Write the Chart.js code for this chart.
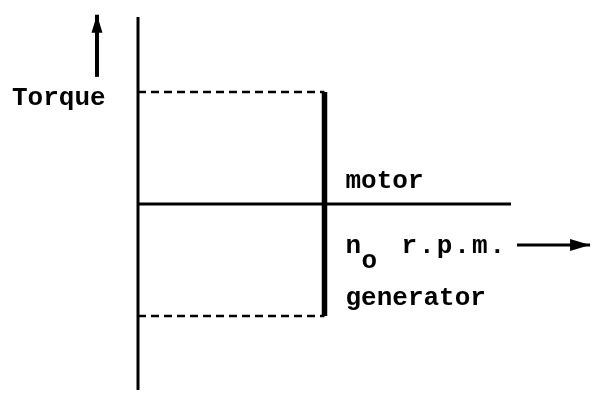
<!DOCTYPE html>
<html>
<head>
<meta charset="utf-8">
<script src="https://cdn.jsdelivr.net/npm/chart.js@4"></script>
<style>
  body { margin: 0; background: #fff; }
  #wrap { width: 601px; height: 402px; }
</style>
</head>
<body>
<div id="wrap"><canvas id="myChart"></canvas></div>
<script>
// data (speed in units of n0, torque in units of the limit torque)
const torqueAxisX = [0, 0];
const torqueAxisY = [1.67, -1.66];
const speedAxisX = [0, 2.0];
const speedAxisY = [0, 0];
const noLoadSpeed = [1, 1];
const torqueRange = [1, -1];
const limitX = [0, 1];
const torqueArrowX = [-0.22, -0.22];
const torqueArrowY = [1.135, 1.69];
const rpmArrowX = [2.032, 2.424];
const rpmArrowY = [-0.366, -0.366];

const pts = (xs, ys) => xs.map((x, i) => ({ x: x, y: ys[i] }));

// arrow heads + text labels
const labelsPlugin = {
    id: 'labels',
    afterDatasetsDraw(chart) {
        const ctx = chart.ctx;
        const xs = chart.scales.x, ys = chart.scales.y;
        const y0 = ys.getPixelForValue(0);
        ctx.save();
        ctx.fillStyle = '#000';

        // up arrow head
        let ax = xs.getPixelForValue(torqueArrowX[1]);
        let ay = ys.getPixelForValue(torqueArrowY[1]);
        ctx.beginPath();
        ctx.moveTo(ax, ay);
        ctx.lineTo(ax - 5.5, ay + 18);
        ctx.lineTo(ax + 5.5, ay + 18);
        ctx.closePath();
        ctx.fill();

        // right arrow head
        ax = xs.getPixelForValue(rpmArrowX[1]);
        ay = ys.getPixelForValue(rpmArrowY[1]);
        ctx.beginPath();
        ctx.moveTo(ax, ay);
        ctx.lineTo(ax - 20, ay - 6);
        ctx.lineTo(ax - 20, ay + 6);
        ctx.closePath();
        ctx.fill();

        ctx.font = 'bold 26px "Liberation Mono"';
        ctx.textBaseline = 'alphabetic';
        ctx.textAlign = 'left';
        const tx = xs.getPixelForValue(noLoadSpeed[0]) + 21;
        ctx.fillText('Torque', 12, ys.getPixelForValue(torqueRange[0]) + 13);
        ctx.fillText('motor', tx, y0 - 16);
        ctx.fillText('n', tx, y0 + 49);
        ctx.fillText('o', tx + 16, y0 + 64);
        ctx.letterSpacing = '2px';
        ctx.fillText('r.p.m.', tx + 56, y0 + 49);
        ctx.letterSpacing = '0px';
        ctx.fillText('generator', tx, y0 + 101);
        ctx.restore();
    }
};

const ctx = document.getElementById('myChart').getContext('2d');
const myChart = new Chart(ctx, {
    type: 'scatter',
    data: {
        datasets: [
            { data: pts(torqueAxisX, torqueAxisY), borderWidth: 3 },
            { data: pts(speedAxisX, speedAxisY), borderWidth: 3 },
            { data: pts(noLoadSpeed, torqueRange), borderWidth: 5.5 },
            { data: pts(limitX, [torqueRange[0], torqueRange[0]]), borderWidth: 2.5, borderDash: [8, 5] },
            { data: pts(limitX, [torqueRange[1], torqueRange[1]]), borderWidth: 2.5, borderDash: [8, 5] },
            { data: pts(torqueArrowX, torqueArrowY), borderWidth: 4 },
            { data: pts(rpmArrowX, rpmArrowY), borderWidth: 3 }
        ].map(d => Object.assign(d, {
            showLine: true,
            borderColor: '#000',
            pointRadius: 0,
            borderCapStyle: 'butt',
            fill: false
        }))
    },
    options: {
        responsive: true,
        maintainAspectRatio: false,
        animation: false,
        layout: { padding: 0 },
        plugins: {
            legend: { display: false },
            tooltip: { enabled: false }
        },
        scales: {
            x: { type: 'linear', display: false, min: -0.74, max: 2.4826 },
            y: { type: 'linear', display: false, min: -1.768, max: 1.8214 }
        }
    },
    plugins: [labelsPlugin]
});
</script>
</body>
</html>
